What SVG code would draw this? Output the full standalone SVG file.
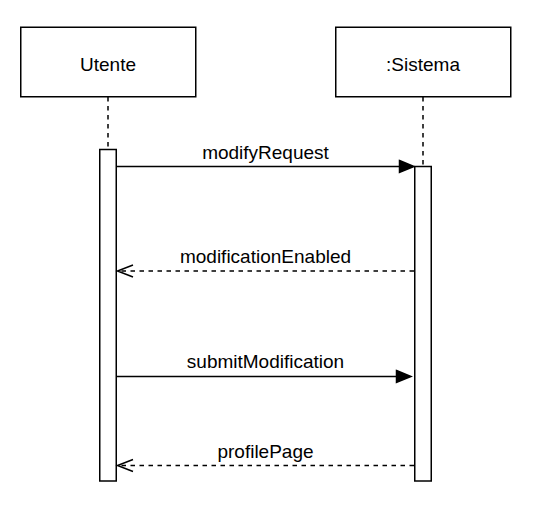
<svg xmlns="http://www.w3.org/2000/svg" width="534" height="510" viewBox="0 0 534 510">
  <defs>
    <style>
      .box { fill: #ffffff; stroke: #000000; stroke-width: 1.5; }
      .life { fill: none; stroke: #000000; stroke-width: 1.5; stroke-dasharray: 4.5 4.5; }
      .act { fill: #ffffff; stroke: #000000; stroke-width: 1.5; }
      .msg { fill: none; stroke: #000000; stroke-width: 1.5; }
      .ret { fill: none; stroke: #000000; stroke-width: 1.5; stroke-dasharray: 4.5 4.5; }
      .head { fill: #000000; stroke: #000000; stroke-width: 1.5; }
      .open { fill: none; stroke: #000000; stroke-width: 1.5; }
      text { font-family: "Liberation Sans", Arial, sans-serif; font-size: 19px; fill: #000000; text-anchor: middle; }
    </style>
  </defs>
  <rect width="534" height="510" fill="#ffffff"/>
  <g id="utente">
    <rect class="box" x="20.75" y="27.25" width="175" height="69.5"/>
    <text x="108" y="71">Utente</text>
    <line class="life" x1="108" y1="97" x2="108" y2="149.5"/>
    <rect class="act" x="99.75" y="149.5" width="16.5" height="331.5"/>
  </g>
  <g id="sistema">
    <rect class="box" x="335.75" y="27.25" width="175" height="69.5"/>
    <text x="423" y="71">:Sistema</text>
    <line class="life" x1="423" y1="97" x2="423" y2="166.5"/>
    <rect class="act" x="414.75" y="166.5" width="16.5" height="314.5"/>
  </g>
  <g id="connectors">
    <g id="m1">
      <line class="msg" x1="116.25" y1="166.5" x2="400" y2="166.5"/>
      <polygon class="head" points="399.5,160.5 414,166.5 399.5,172.5"/>
      <text x="265.5" y="158.5">modifyRequest</text>
    </g>
    <g id="m2">
      <line class="ret" x1="414" y1="271" x2="118" y2="271"/>
      <polyline class="open" points="133,265 117.5,271 133,277"/>
      <text x="265.5" y="263">modificationEnabled</text>
    </g>
    <g id="m3">
      <line class="msg" x1="116.25" y1="376.5" x2="397" y2="376.5"/>
      <polygon class="head" points="396.5,370.5 411,376.5 396.5,382.5"/>
      <text x="265.5" y="368">submitModification</text>
    </g>
    <g id="m4">
      <line class="ret" x1="414" y1="465.5" x2="118" y2="465.5"/>
      <polyline class="open" points="133,459.5 117.5,465.5 133,471.5"/>
      <text x="265.5" y="457.5">profilePage</text>
    </g>
  </g>
</svg>
